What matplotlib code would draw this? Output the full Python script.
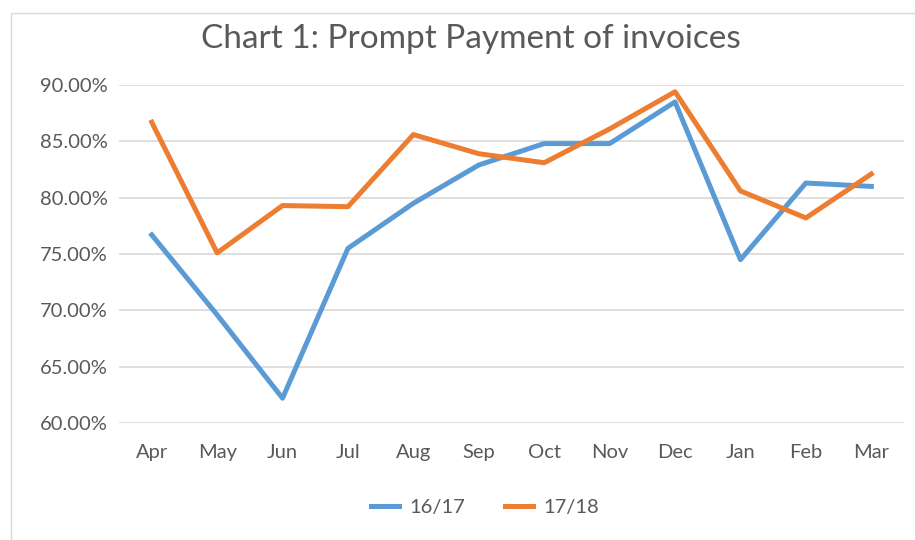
import matplotlib.pyplot as plt
from matplotlib.patches import Rectangle
from matplotlib.ticker import FuncFormatter

plt.rcParams['font.family'] = ['Lato', 'DejaVu Sans']

months = ["Apr", "May", "Jun", "Jul", "Aug", "Sep", "Oct", "Nov", "Dec",
          "Jan", "Feb", "Mar"]
fy_16_17 = [76.7, 69.6, 62.2, 75.5, 79.5, 82.9, 84.8, 84.8, 88.5, 74.5, 81.3, 81.0]
fy_17_18 = [86.7, 75.1, 79.3, 79.2, 85.6, 83.9, 83.1, 86.1, 89.4, 80.6, 78.2, 82.1]

text_grey = "#595959"

fig = plt.figure(figsize=(9.15, 5.4), dpi=100)
# Light frame around the chart area, like the Excel chart box
fig.patches.append(Rectangle((11 / 915, -0.1), 1.2, 1.1 - 13 / 540,
                             transform=fig.transFigure, fill=False,
                             edgecolor="#d9d9d9", linewidth=1))
ax = fig.add_axes([119 / 915, 1 - 423 / 540, 785 / 915, 338 / 540])

x = range(len(months))
ax.plot(x, fy_16_17, color="#5B9BD5", linewidth=3.6, label="16/17",
        solid_joinstyle="round")
ax.plot(x, fy_17_18, color="#ED7D31", linewidth=3.6, label="17/18",
        solid_joinstyle="round")

ax.set_xlim(-0.5, len(months) - 0.5)
ax.set_ylim(60, 90)
ax.set_yticks([60, 65, 70, 75, 80, 85, 90])
ax.yaxis.set_major_formatter(FuncFormatter(lambda v, p: "%.2f%%" % v))
ax.set_xticks(list(x))
ax.set_xticklabels(months)
ax.grid(axis="y", color="#d9d9d9", linewidth=1.2)
ax.set_axisbelow(True)
for s in ax.spines.values():
    s.set_visible(False)
ax.tick_params(axis="both", length=0, labelsize=14.5, labelcolor=text_grey)
ax.tick_params(axis="x", pad=15)
ax.tick_params(axis="y", pad=8)

fig.text(471 / 915, 1 - 39 / 540, "Chart 1: Prompt Payment of invoices",
         ha="center", va="center", fontsize=24, color=text_grey)

fig.legend(loc="center", bbox_to_anchor=(485 / 915, 1 - 507 / 540), ncol=2,
           frameon=False, fontsize=14.5, labelcolor=text_grey, handlelength=1.4,
           columnspacing=2.0, handletextpad=0.5)

fig.savefig("out.png", dpi=100)
